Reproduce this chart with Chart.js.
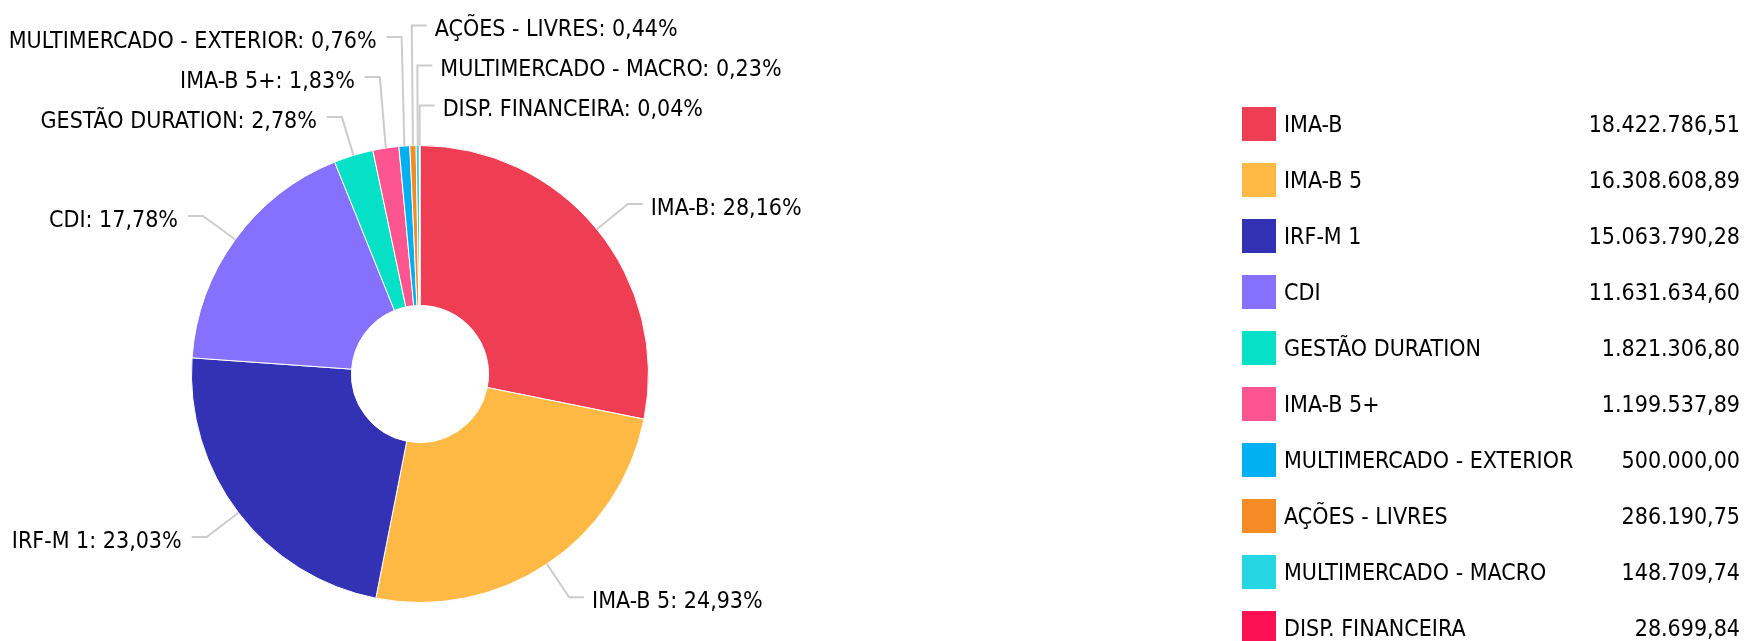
<!DOCTYPE html>
<html>
<head>
<meta charset="utf-8">
<script src="https://cdn.jsdelivr.net/npm/chart.js@4.4.1/dist/chart.umd.min.js"></script>
<style>
	html, body { margin: 0; padding: 0; background: #ffffff; }
	#wrap { width: 1745px; height: 641px; }
</style>
</head>
<body>
<div id="wrap"><canvas id="pieCanvas" width="1745" height="641"></canvas></div>
<script>
var categoryArr = ['IMA-B', 'IMA-B 5', 'IRF-M 1', 'CDI', 'GESTÃO DURATION', 'IMA-B 5+', 'MULTIMERCADO - EXTERIOR', 'AÇÕES - LIVRES', 'MULTIMERCADO - MACRO', 'DISP. FINANCEIRA'];
var valueArr = [18422786.51, 16308608.89, 15063790.28, 11631634.60, 1821306.80, 1199537.89, 500000.00, 286190.75, 148709.74, 28699.84];
var colorArr = ['#ef3e54', '#ffb944', '#3432b4', '#8571fe', '#06e0c6', '#fc5590', '#01b0f0', '#f48b24', '#27d6e3', '#fe1154'];

var fontFamily = "'DejaVu Sans Condensed', 'DejaVu Sans', sans-serif";
var fontStr = "23px " + fontFamily;

function getBrNumber(num){
	var parts = num.toFixed(2).split('.');
	var intPart = parts[0].replace(/\B(?=(\d{3})+(?!\d))/g, '.');
	return intPart + ',' + parts[1];
}

var totalValue = 0;
for(var idx in valueArr){ totalValue += valueArr[idx]; }

// labels outside the pie with elbow leader lines
var sliceLabelPlugin = {
	id: 'sliceLabels',
	afterDatasetsDraw: function(chart){
		var ctx = chart.ctx;
		var meta = chart.getDatasetMeta(0);
		var leftArr = [];
		var rightArr = [];
		for(var i = 0; i < meta.data.length; i++){
			var arc = meta.data[i];
			var p = arc.getProps(['x', 'y', 'startAngle', 'endAngle', 'outerRadius'], true);
			var mid = (p.startAngle + p.endAngle) / 2;
			var fromTop = mid + Math.PI / 2;
			while(fromTop > Math.PI){ fromTop -= Math.PI * 2; }
			var item = {
				idx: i,
				fromTop: fromTop,
				ex: p.x + p.outerRadius * Math.cos(mid),
				ey: p.y + p.outerRadius * Math.sin(mid),
				bx: p.x + (p.outerRadius + 40) * Math.cos(mid),
				by: p.y + (p.outerRadius + 40) * Math.sin(mid),
				text: categoryArr[i] + ': ' + (valueArr[i] / totalValue * 100).toFixed(2).replace('.', ',') + '%'
			};
			if(Math.cos(mid) >= -0.05){ rightArr.push(item); } else { leftArr.push(item); }
		}
		rightArr.sort(function(a, b){ return a.fromTop - b.fromTop; });
		leftArr.sort(function(a, b){ return b.fromTop - a.fromTop; });

		var gap = 40;
		[leftArr, rightArr].forEach(function(arr){
			for(var k = arr.length - 2; k >= 0; k--){
				if(arr[k].by > arr[k + 1].by - gap){ arr[k].by = arr[k + 1].by - gap; }
			}
		});

		ctx.save();
		ctx.lineWidth = 2;
		ctx.strokeStyle = '#cccccc';
		ctx.fillStyle = '#000000';
		ctx.font = fontStr;
		ctx.textBaseline = 'middle';
		rightArr.forEach(function(it){
			ctx.beginPath();
			ctx.moveTo(it.ex, it.ey);
			ctx.lineTo(it.bx, it.by);
			ctx.lineTo(it.bx + 15, it.by);
			ctx.stroke();
			ctx.textAlign = 'left';
			ctx.fillText(it.text, it.bx + 23, it.by + 5);
		});
		leftArr.forEach(function(it){
			ctx.beginPath();
			ctx.moveTo(it.ex, it.ey);
			ctx.lineTo(it.bx, it.by);
			ctx.lineTo(it.bx - 15, it.by);
			ctx.stroke();
			ctx.textAlign = 'right';
			ctx.fillText(it.text, it.bx - 25, it.by + 5);
		});
		ctx.restore();
	}
};

// legend on the right with values
var sideLegendPlugin = {
	id: 'sideLegend',
	afterDraw: function(chart){
		var ctx = chart.ctx;
		ctx.save();
		ctx.font = fontStr;
		ctx.textBaseline = 'middle';
		for(var i = 0; i < categoryArr.length; i++){
			var cy = 124 + i * 56;
			ctx.fillStyle = colorArr[i];
			ctx.fillRect(1242, cy - 17, 34, 34);
			ctx.fillStyle = '#000000';
			ctx.textAlign = 'left';
			ctx.fillText(categoryArr[i], 1284, cy + 2);
			ctx.textAlign = 'right';
			ctx.fillText(getBrNumber(valueArr[i]), 1740, cy + 2);
		}
		ctx.restore();
	}
};

(function () {
	'use strict'
	var ctx = document.getElementById('pieCanvas');
	var myChart = new Chart(ctx, {
		type: 'doughnut',
		data: {
			labels: categoryArr,
			datasets: [{
				data: valueArr,
				backgroundColor: colorArr,
				borderColor: '#ffffff',
				borderWidth: 1
			}]
		},
		options: {
			responsive: false,
			animation: false,
			cutout: '30%',
			layout: { padding: { left: 191, right: 1096, top: 145, bottom: 38 } },
			plugins: {
				legend: { display: false },
				tooltip: { enabled: false }
			}
		},
		plugins: [sliceLabelPlugin, sideLegendPlugin]
	});
})()
</script>
</body>
</html>
